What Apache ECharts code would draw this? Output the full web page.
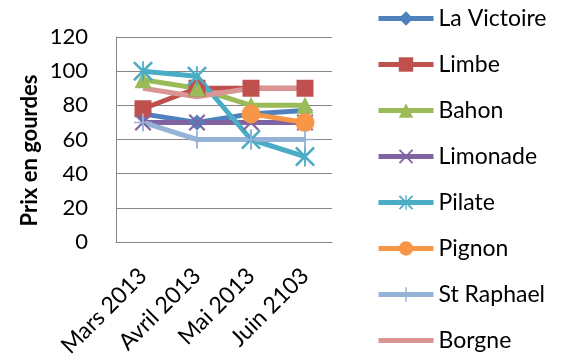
<!DOCTYPE html>
<html>
<head>
<meta charset="utf-8">
<script src="https://cdn.jsdelivr.net/npm/echarts@6/dist/echarts.min.js"></script>
<style>
  html, body { margin: 0; padding: 0; background: #fff; }
  #chart { width: 564px; height: 360px; }
</style>
</head>
<body>
<div id="chart"></div>
<script>
// Monthly prices (gourdes) per market
const months = ['Mars 2013', 'Avril 2013', 'Mai 2013', 'Juin 2103'];
const laVictoire = [75, 70, 75, 77];
const limbe = [78, 90, 90, 90];
const bahon = [95, 90, 80, 80];
const limonade = [70, 70, 70, 70];
const pilate = [100, 97, 60, 50];
const pignon = [null, null, 75, 70];
const stRaphael = [70, 60, 60, 60];
const borgne = [90, 85, 90, 90];
const yTicks = { min: 0, max: 120, step: 20 };

// Marker shapes
const xMark = 'path://M0,0.9L0.9,0L10,9.1L9.1,10Z M9.1,0L10,0.9L0.9,10L0,9.1Z';
const starMark = xMark + ' M4.55,0H5.45V10H4.55Z';
const plusMark = 'path://M4.5,0H5.5V10H4.5Z M0,4.6H10V5.4H0Z';

function lineSeries(name, data, color, symbol, size) {
  return {
    name: name,
    type: 'line',
    data: data,
    symbol: symbol,
    symbolSize: size,
    showSymbol: symbol !== 'none',
    lineStyle: { color: color, width: 5 },
    itemStyle: { color: color },
    emphasis: { disabled: true },
    connectNulls: false
  };
}

const chart = echarts.init(document.getElementById('chart'));
chart.setOption({
  animation: false,
  textStyle: { fontFamily: 'Lato, sans-serif' },
  grid: { left: 116, right: 232, top: 37, bottom: 117 },
  legend: {
    orient: 'vertical',
    left: 376,
    top: 7,
    padding: 0,
    itemWidth: 55,
    itemHeight: 18,
    itemGap: 23,
    lineStyle: { width: 5 },
    textStyle: { fontSize: 23, lineHeight: 22, color: '#000', fontFamily: 'Lato, sans-serif' },
    data: ['La Victoire', 'Limbe', 'Bahon', 'Limonade', 'Pilate', 'Pignon', 'St Raphael',
      // Borgne has no marker: show the line only
      { name: 'Borgne', itemStyle: { opacity: 0 } }]
  },
  xAxis: {
    type: 'category',
    data: months,
    boundaryGap: true,
    axisLine: { lineStyle: { color: '#868686', width: 1 } },
    axisTick: { show: false },
    axisLabel: { rotate: 45, fontSize: 23, color: '#000', margin: 30, interval: 0 }
  },
  yAxis: {
    type: 'value',
    min: yTicks.min,
    max: yTicks.max,
    interval: yTicks.step,
    name: 'Prix en gourdes',
    nameLocation: 'middle',
    nameRotate: 90,
    nameGap: 75,
    nameTextStyle: { fontSize: 22, fontWeight: 'bold', color: '#000', padding: [0, 22, 0, 0] },
    axisLine: { show: true, lineStyle: { color: '#868686', width: 1 } },
    axisTick: { show: false },
    axisLabel: { fontSize: 22, color: '#000', margin: 28 },
    splitLine: { lineStyle: { color: '#868686', width: 1 } }
  },
  series: [
    lineSeries('La Victoire', laVictoire, '#4F81BD', 'diamond', 16),
    lineSeries('Limbe', limbe, '#C0504D', 'rect', 17),
    lineSeries('Bahon', bahon, '#9BBB59', 'triangle', 17),
    lineSeries('Limonade', limonade, '#8064A2', xMark, 17),
    lineSeries('Pilate', pilate, '#4BACC6', starMark, 20),
    lineSeries('Pignon', pignon, '#F79646', 'circle', 19),
    lineSeries('St Raphael', stRaphael, '#95B3D7', plusMark, 18),
    lineSeries('Borgne', borgne, '#D99694', 'none', 0)
  ]
});
</script>
</body>
</html>
